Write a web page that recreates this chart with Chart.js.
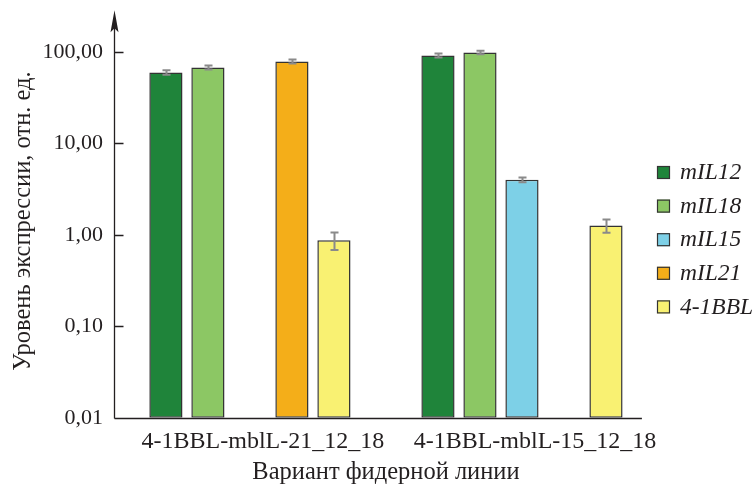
<!DOCTYPE html>
<html>
<head>
<meta charset="utf-8">
<script src="https://cdn.jsdelivr.net/npm/chart.js@4/dist/chart.umd.min.js"></script>
<style>
  html, body { margin: 0; padding: 0; background: #fff; }
  #wrap { width: 756px; height: 485px; }
</style>
</head>
<body>
<div id="wrap"><canvas id="chart"></canvas></div>
<script>
// Data
const categories = ["4-1BBL-mblL-21_12_18", "4-1BBL-mblL-15_12_18"];
const seriesNames = ["mIL12", "mIL18", "mIL15", "mIL21", "4-1BBL"];
const mIL12 = [59.4, 91.2];
const mIL18 = [67.3, 98.2];
const mIL15 = [null, 3.99];
const mIL21 = [78.3, null];
const bbl = [0.87, 1.26];
const mIL12Err = [3.5, 4.5];
const mIL18Err = [3.5, 4.5];
const mIL15Err = [null, 0.23];
const mIL21Err = [4, null];
const bblErr = [0.19, 0.21];
const yTicks = [0.01, 0.1, 1, 10, 100];

const COLORS = {
  mIL12: "#1f843a",
  mIL18: "#8cc764",
  mIL15: "#7dd0e7",
  mIL21: "#f4ae19",
  bbl: "#f9f172",
  border: "#333333",
  err: "#8a8a8a",
  axis: "#231f20",
  text: "#231f20",
};

const FONT = "'Liberation Serif', 'Times New Roman', serif";

const values = [mIL12, mIL18, mIL15, mIL21, bbl];
const errors = [mIL12Err, mIL18Err, mIL15Err, mIL21Err, bblErr];
const fills = [COLORS.mIL12, COLORS.mIL18, COLORS.mIL15, COLORS.mIL21, COLORS.bbl];

const datasets = seriesNames.map((name, i) => ({
  label: name,
  data: values[i],
  errors: errors[i],
  backgroundColor: fills[i],
  borderColor: COLORS.border,
  borderWidth: 1.5,
  borderSkipped: false,
  categoryPercentage: 0.772,
  barPercentage: 0.79,
}));

// error bars, drawn through the y scale
const errorBars = {
  id: "errorBars",
  afterDatasetsDraw(chart) {
    const { ctx } = chart;
    const y = chart.scales.y;
    ctx.save();
    ctx.strokeStyle = COLORS.err;
    ctx.lineWidth = 2;
    chart.data.datasets.forEach((ds, i) => {
      const meta = chart.getDatasetMeta(i);
      meta.data.forEach((bar, j) => {
        const v = ds.data[j];
        const e = ds.errors[j];
        if (v == null || e == null) return;
        const top = y.getPixelForValue(v + e);
        const bot = y.getPixelForValue(v - e);
        const x = Math.round(bar.x) + 0.5;
        ctx.beginPath();
        ctx.moveTo(x, top);
        ctx.lineTo(x, bot);
        ctx.moveTo(x - 4, top);
        ctx.lineTo(x + 4, top);
        ctx.moveTo(x - 4, bot);
        ctx.lineTo(x + 4, bot);
        ctx.stroke();
      });
    });
    ctx.restore();
  },
};

// axis lines with arrow, inner ticks, and the side legend
const axesAndLegend = {
  id: "axesAndLegend",
  afterDraw(chart) {
    const { ctx, chartArea } = chart;
    const y = chart.scales.y;
    const x0 = Math.round(chartArea.left) + 0.5;
    const yb = Math.round(chartArea.bottom) + 0.5;
    const tip = chartArea.top - 14;
    ctx.save();
    ctx.strokeStyle = COLORS.axis;
    ctx.fillStyle = COLORS.axis;
    ctx.lineWidth = 1.3;
    ctx.beginPath();
    ctx.moveTo(x0, yb);
    ctx.lineTo(x0, tip + 8);
    ctx.moveTo(x0, yb);
    ctx.lineTo(chartArea.left + 528, yb);
    yTicks.slice(1).forEach((t) => {
      const py = Math.round(y.getPixelForValue(t)) + 0.5;
      ctx.moveTo(x0, py);
      ctx.lineTo(x0 + 9, py);
    });
    ctx.stroke();
    // arrow head
    ctx.beginPath();
    ctx.moveTo(x0, tip);
    ctx.lineTo(x0 - 4, tip + 22);
    ctx.lineTo(x0, tip + 18);
    ctx.lineTo(x0 + 4, tip + 22);
    ctx.closePath();
    ctx.fill();

    // legend
    const lx = chartArea.right - 1;
    ctx.font = "italic 23.5px " + FONT;
    ctx.textBaseline = "middle";
    ctx.lineWidth = 1.2;
    chart.data.datasets.forEach((ds, i) => {
      const cy = 172 + i * 33.6;
      ctx.fillStyle = ds.backgroundColor;
      ctx.fillRect(lx, cy - 6, 13, 13);
      ctx.strokeStyle = COLORS.border;
      ctx.strokeRect(lx + 0.5, cy - 5.5, 12, 12);
      ctx.fillStyle = COLORS.text;
      ctx.fillText(ds.label, lx + 23, cy + 1);
    });
    ctx.restore();
  },
};

new Chart(document.getElementById("chart"), {
  type: "bar",
  data: { labels: categories, datasets },
  options: {
    responsive: true,
    maintainAspectRatio: false,
    animation: false,
    layout: { padding: { top: 0, right: 98, left: 9, bottom: 0 } },
    plugins: { legend: { display: false }, tooltip: { enabled: false } },
    scales: {
      x: {
        grid: { display: false, drawTicks: false },
        border: { display: false },
        ticks: {
          color: COLORS.text,
          font: { family: FONT, size: 24 },
          padding: 10,
          labelOffset: 13,
          maxRotation: 0,
        },
        title: {
          display: true,
          text: "Вариант фидерной линии",
          color: COLORS.text,
          font: { family: FONT, size: 24.5 },
          padding: { top: -9, bottom: -2 },
        },
      },
      y: {
        type: "logarithmic",
        min: 0.01,
        max: 200,
        grid: { display: false, drawTicks: false },
        border: { display: false },
        afterBuildTicks: (scale) => {
          scale.ticks = yTicks.map((v) => ({ value: v }));
        },
        ticks: {
          color: COLORS.text,
          font: { family: FONT, size: 22 },
          padding: 11,
          callback: (v) => Number(v).toFixed(2).replace(".", ","),
        },
        title: {
          display: true,
          text: "Уровень экспрессии, отн. ед.",
          color: COLORS.text,
          font: { family: FONT, size: 24.5 },
          padding: { top: 0, bottom: -7 },
        },
      },
    },
  },
  plugins: [errorBars, axesAndLegend],
});
</script>
</body>
</html>
